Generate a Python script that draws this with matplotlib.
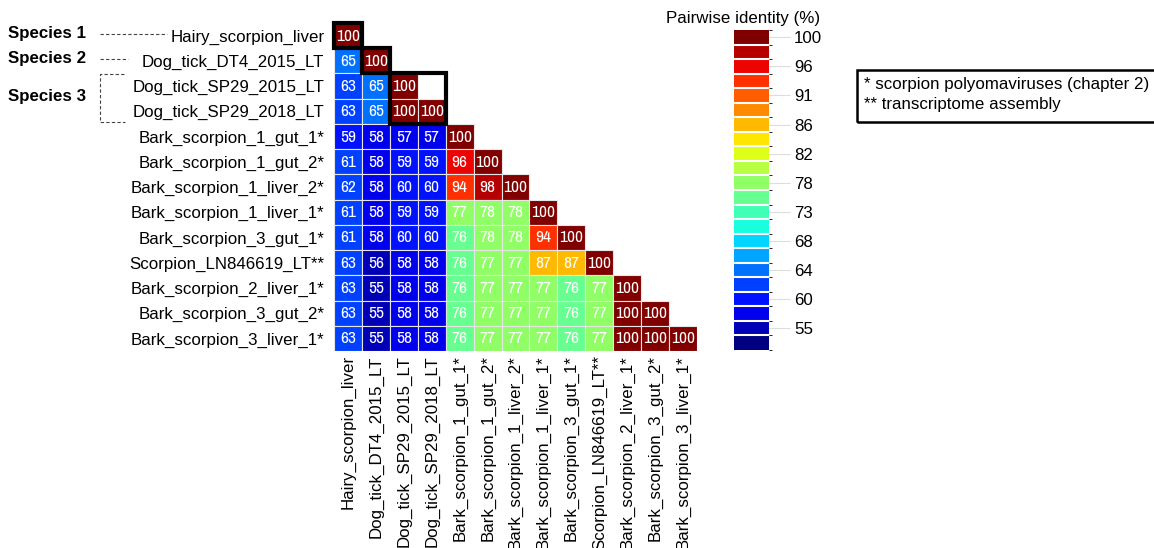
import numpy as np
import matplotlib
matplotlib.use("Agg")
import matplotlib.pyplot as plt
from matplotlib.colors import ListedColormap, BoundaryNorm
from matplotlib.patches import Rectangle
from matplotlib.lines import Line2D

plt.rcParams['font.family'] = ['Liberation Sans', 'DejaVu Sans']

# sample names (rows and columns share the same order)
samples = [
    "Hairy_scorpion_liver", "Dog_tick_DT4_2015_LT", "Dog_tick_SP29_2015_LT",
    "Dog_tick_SP29_2018_LT", "Bark_scorpion_1_gut_1*", "Bark_scorpion_1_gut_2*",
    "Bark_scorpion_1_liver_2*", "Bark_scorpion_1_liver_1*", "Bark_scorpion_3_gut_1*",
    "Scorpion_LN846619_LT**", "Bark_scorpion_2_liver_1*", "Bark_scorpion_3_gut_2*",
    "Bark_scorpion_3_liver_1*",
]

# lower triangle of pairwise identity (%)
identity_rows = [
    [100],
    [65, 100],
    [63, 65, 100],
    [63, 65, 100, 100],
    [59, 58, 57, 57, 100],
    [61, 58, 59, 59, 96, 100],
    [62, 58, 60, 60, 94, 98, 100],
    [61, 58, 59, 59, 77, 78, 78, 100],
    [61, 58, 60, 60, 76, 78, 78, 94, 100],
    [63, 56, 58, 58, 76, 77, 77, 87, 87, 100],
    [63, 55, 58, 58, 76, 77, 77, 77, 76, 77, 100],
    [63, 55, 58, 58, 76, 77, 77, 77, 76, 77, 100, 100],
    [63, 55, 58, 58, 76, 77, 77, 77, 76, 77, 100, 100, 100],
]

# species groups: (label, first index, last index)
species_groups = [("Species 1", 0, 0), ("Species 2", 1, 1), ("Species 3", 2, 3)]

legend_lines = ["* scorpion polyomaviruses (chapter 2)", "** transcriptome assembly"]

# colour key: 22 bins, labels on every second bin
n_bins = 22
bin_top = 101.5
bin_step = 2.25
key_labels = ["100", "96", "91", "86", "82", "78", "73", "68", "64", "60", "55"]

W, H = 1154, 548
FS = 12.2
fig = plt.figure(figsize=(W / 100, H / 100), dpi=100)


def fx(x):
    return x / W


def fy(y):
    return 1 - y / H


n = len(samples)
bounds = bin_top - bin_step * np.arange(n_bins + 1)[::-1]
cmap = ListedColormap(plt.get_cmap('jet')(np.linspace(0, 1, n_bins)))
norm = BoundaryNorm(bounds, cmap.N)

ax = fig.add_axes([fx(334), fy(351), fx(697) - fx(334), fy(23) - fy(351)])
ax.set_xlim(0, n)
ax.set_ylim(n, 0)
for s in ax.spines.values():
    s.set_visible(False)

narrow = ['Archivo Narrow', 'Liberation Sans Narrow', 'Liberation Sans']
for i, row in enumerate(identity_rows):
    for j, v in enumerate(row):
        ax.add_patch(Rectangle((j, i), 1, 1, facecolor=cmap(norm(v)),
                               edgecolor='#e6e6e6', linewidth=0.8))
        ax.text(j + 0.5, i + 0.52, f"{v}", ha='center', va='center',
                color='white', fontsize=12.5, family=narrow)

ax.set_xticks(np.arange(n) + 0.5)
ax.set_yticks(np.arange(n) + 0.5)
ax.set_xticklabels(samples, rotation=90, fontsize=FS)
ax.set_yticklabels(samples, fontsize=FS)
ax.tick_params(axis='y', length=0, pad=7)
ax.tick_params(axis='x', length=0, pad=3)

# boxes around each species block
for label, a, b in species_groups:
    ax.add_patch(Rectangle((a, a), b - a + 1, b - a + 1, fill=False,
                           edgecolor='black', linewidth=3, clip_on=False, zorder=5))

# species labels with dashed connectors
row_h = (351 - 23) / n
dash = dict(color='#444444', linewidth=0.8, linestyle=(0, (3, 2)))
line_ends = [167, 128]
for k, (label, a, b) in enumerate(species_groups):
    yc = 23 + (a + b + 1) / 2 * row_h
    fig.text(fx(8), fy(yc - 2), label, fontsize=FS, fontweight='bold',
             ha='left', va='center')
    if a == b:
        fig.add_artist(Line2D([fx(100), fx(line_ends[k])], [fy(yc - 2), fy(yc - 2)], **dash))
    else:
        y0 = 23 + (a + 0.5) * row_h - 12
        y1 = 23 + (b + 0.5) * row_h + 11
        fig.add_artist(Line2D([fx(124), fx(100), fx(100), fx(125)],
                              [fy(y0), fy(y0), fy(y1), fy(y1)], **dash))

# colour key
cax = fig.add_axes([fx(734), fy(350), fx(769) - fx(734), fy(30) - fy(350)])
cb = matplotlib.colorbar.ColorbarBase(cax, cmap=cmap, norm=norm, boundaries=bounds,
                                      orientation='vertical', drawedges=True)
cb.dividers.set_color('white')
cb.dividers.set_linewidth(1.5)
cb.outline.set_visible(False)
centers = (bounds[:-1] + bounds[1:]) / 2
cb.set_ticks(centers[::-1][::2][:len(key_labels)])
cb.set_ticklabels(key_labels)
cax.tick_params(length=15, width=0.8, color='#dddddd', labelsize=FS, pad=3)
fig.text(fx(743), fy(18), "Pairwise identity (%)", fontsize=FS, ha='center', va='center')

# footnote box
fig.add_artist(Rectangle((fx(857), fy(122)), fx(1170) - fx(857), fy(70) - fy(122),
                         transform=fig.transFigure, fill=False, edgecolor='black',
                         linewidth=1.8))
for k, line in enumerate(legend_lines):
    fig.text(fx(864), fy(85 + 20 * k), line, fontsize=FS, ha='left', va='center')

fig.savefig("out.png", dpi=100)
